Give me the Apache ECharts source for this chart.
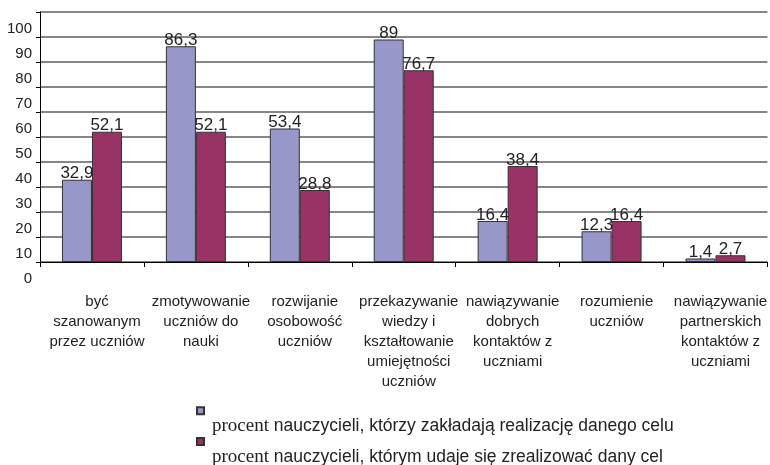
<!DOCTYPE html>
<html>
<head>
<meta charset="utf-8">
<script src="https://cdn.jsdelivr.net/npm/echarts@6/dist/echarts.min.js"></script>
<style>
  html, body { margin: 0; padding: 0; background: #ffffff; }
  #chart { width: 770px; height: 465px; }
</style>
</head>
<body>
<div id="chart"></div>
<script>
const categories = [
  'być\nszanowanym\nprzez uczniów',
  'zmotywowanie\nuczniów do\nnauki',
  'rozwijanie\nosobowość\nuczniów',
  'przekazywanie\nwiedzy i\nkształtowanie\numiejętności\nuczniów',
  'nawiązywanie\ndobrych\nkontaktów z\nuczniami',
  'rozumienie\nuczniów',
  'nawiązywanie\npartnerskich\nkontaktów z\nuczniami'
];
const seriesNames = [
  'procent nauczycieli, którzy zakładają realizację danego celu',
  'procent nauczycieli, którym udaje się zrealizować dany cel'
];
const assumed = [32.9, 86.3, 53.4, 89, 16.4, 12.3, 1.4];
const achieved = [52.1, 52.1, 28.8, 76.7, 38.4, 16.4, 2.7];
const yMin = 0, yMax = 100, yStep = 10;

const colors = ['#9797C9', '#993366'];

function legendFmt(name) {
  return '{s|procent}{a|' + name.slice('procent'.length) + '}';
}
function makeLegend(name, top) {
  return {
    data: [{ name: name, icon: 'rect' }],
    left: 196,
    top: top,
    padding: 0,
    itemWidth: 7,
    itemHeight: 7,
    selectedMode: false,
    formatter: legendFmt,
    textStyle: {
      padding: [31, 0, 0, 3],
      lineHeight: 19,
      color: '#222',
      rich: {
        s: { fontFamily: 'Liberation Serif', fontSize: 19, lineHeight: 19, color: '#222' },
        a: { fontFamily: 'Liberation Sans', fontSize: 17.5, lineHeight: 19, color: '#222' }
      }
    }
  };
}

const chart = echarts.init(document.getElementById('chart'), null, { renderer: 'canvas' });
const labelCfg = {
  show: true,
  position: 'top',
  distance: -2.5,
  fontFamily: 'Liberation Sans',
  fontSize: 17,
  color: '#222',
  formatter: p => String(p.value).replace('.', ',')
};
chart.setOption({
  backgroundColor: '#ffffff',
  animation: false,
  textStyle: { fontFamily: 'Liberation Sans' },
  grid: { left: 40, right: 0, top: 12, bottom: 203, containLabel: false },
  legend: [makeLegend(seriesNames[0], 385.7), makeLegend(seriesNames[1], 416.5)],
  xAxis: {
    type: 'category',
    data: categories,
    axisLine: { show: true, lineStyle: { color: '#000', width: 1 } },
    axisTick: { show: true, length: 5, alignWithLabel: false, lineStyle: { color: '#000' } },
    axisLabel: {
      interval: 0,
      margin: 30,
      fontFamily: 'Liberation Sans',
      fontSize: 15,
      lineHeight: 20,
      color: '#222',
      padding: [0, 0, 0, 10]
    },
    splitLine: { show: false }
  },
  yAxis: {
    type: 'value',
    min: yMin,
    max: yMax,
    interval: yStep,
    axisLine: { show: true, lineStyle: { color: '#000', width: 1 } },
    axisTick: { show: true, length: 4, lineStyle: { color: '#000' } },
    axisLabel: {
      margin: 8,
      fontFamily: 'Liberation Sans',
      fontSize: 15,
      lineHeight: 15,
      color: '#222',
      verticalAlign: 'top',
      padding: [9, 0, 0, 0]
    },
    splitLine: { show: true, lineStyle: { color: '#5e5e5e', width: 1.5 } }
  },
  series: [
    {
      name: seriesNames[0],
      type: 'bar',
      data: assumed,
      barWidth: 30,
      barGap: '0%',
      itemStyle: { color: colors[0], borderColor: '#333', borderWidth: 1 },
      label: labelCfg
    },
    {
      name: seriesNames[1],
      type: 'bar',
      data: achieved,
      barWidth: 30,
      barGap: '0%',
      itemStyle: { color: colors[1], borderColor: '#333', borderWidth: 1 },
      label: labelCfg
    }
  ]
});
</script>
</body>
</html>
